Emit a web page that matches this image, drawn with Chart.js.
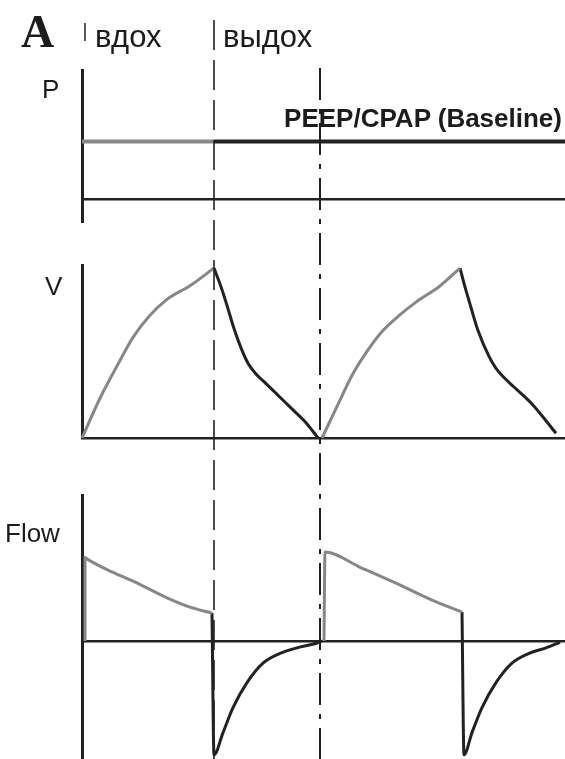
<!DOCTYPE html>
<html>
<head>
<meta charset="utf-8">
<script src="https://cdn.jsdelivr.net/npm/chart.js@4.4.0/dist/chart.umd.min.js"></script>
<style>
  html, body { margin: 0; padding: 0; background: #fff; }
  #wrap { position: relative; width: 565px; height: 759px; overflow: hidden; }
  canvas { position: absolute; left: 0; }
  .lbl { position: absolute; font-family: 'Liberation Sans', Arial, sans-serif; color: #1c1c1c; line-height: 1; white-space: nowrap; }
</style>
</head>
<body>
<div id="wrap">
  <canvas id="pChart" width="565" height="240" style="top:0"></canvas>
  <canvas id="vChart" width="565" height="220" style="top:240px"></canvas>
  <canvas id="fChart" width="565" height="299" style="top:460px"></canvas>
  <div class="lbl" style="font-family:'Liberation Serif',serif;font-weight:bold;font-size:46px;left:21px;top:9px">A</div>
  <div class="lbl" style="font-size:31px;left:95px;top:21px">вдох</div>
  <div class="lbl" style="font-size:31px;left:223px;top:21px">выдох</div>
  <div class="lbl" style="font-size:26px;left:42px;top:76px">P</div>
  <div class="lbl" style="font-size:26px;font-weight:bold;right:3px;top:105px">PEEP/CPAP (Baseline)</div>
  <div class="lbl" style="font-size:26px;left:45px;top:273px">V</div>
  <div class="lbl" style="font-size:26px;left:5px;top:520px">Flow</div>
</div>
<script>
'use strict';

// time axis in seconds, markers = end of inspiration / end of expiration
const markerTimes = [1.32, 2.38];
const timeMax = 4.83;

// pressure, cmH2O
const presTime = [0, 1.32, 4.83];
const pressure = [5, 5, 5];

// volume, mL (one array pair per phase)
const volInsp1Time = [0, 0.18, 0.38, 0.51, 0.68, 0.85, 1.08, 1.32];
const volInsp1 = [0, 117, 228, 296, 361, 408, 448, 500];
const volExp1Time = [1.32, 1.39, 1.45, 1.52, 1.59, 1.66, 1.74, 1.84, 1.98, 2.12, 2.24, 2.36];
const volExp1 = [500, 445, 390, 322, 265, 220, 188, 160, 120, 80, 45, 0];
const volInsp2Time = [2.40, 2.56, 2.705, 2.85, 2.99, 3.17, 3.35, 3.57, 3.78];
const volInsp2 = [0, 99, 187, 255, 310, 360, 402, 445, 500];
const volExp2Time = [3.78, 3.82, 3.89, 3.96, 4.07, 4.14, 4.22, 4.32, 4.50, 4.74];
const volExp2 = [500, 455, 384, 316, 240, 205, 178, 150, 100, 14];

// flow, L/min
const flowInsp1Time = [0.03, 0.03, 0.06, 0.26, 0.51, 0.85, 1.08, 1.30];
const flowInsp1 = [0, 60, 58.5, 51, 43, 31, 24.3, 20];
const flowExp1Time = [1.30, 1.32, 1.41, 1.51, 1.65, 1.81, 1.98, 2.15, 2.35, 2.40];
const flowExp1 = [20, -82, -66, -48, -30, -16, -9, -5, -1.5, 0];
const flowInsp2Time = [2.42, 2.43, 2.78, 3.14, 3.50, 3.80];
const flowInsp2 = [0, 64, 53, 41.5, 29.4, 20.7];
const flowExp2Time = [3.80, 3.82, 3.90, 4.00, 4.14, 4.30, 4.47, 4.64, 4.78];
const flowExp2 = [20.7, -82, -66, -48, -30, -16, -9, -5, -1];

const GRAY = '#878787';
const DARK = '#222222';

function pts(times, values) {
  return times.map((t, i) => ({ x: t, y: values[i] }));
}

function line(times, values, color, width) {
  return {
    data: pts(times, values),
    borderColor: color,
    borderWidth: width || 3,
    pointRadius: 0,
    cubicInterpolationMode: 'monotone',
    clip: false
  };
}

// vertical phase lines running through all three panels
const phaseLines = {
  id: 'phaseLines',
  afterDatasetsDraw(chart, args, o) {
    const ctx = chart.ctx;
    const xs = chart.scales.x;
    const starts = [20, 68];
    const dashes = [[30, 10], [32, 9, 5, 9]];
    const widths = [1.6, 2];
    ctx.save();
    ctx.strokeStyle = DARK;
    markerTimes.forEach((t, i) => {
      const px = Math.round(xs.getPixelForValue(t));
      const y0 = Math.max(0, starts[i] - o.top);
      ctx.lineWidth = widths[i];
      ctx.setLineDash(dashes[i]);
      ctx.lineDashOffset = o.top + y0 - starts[i];
      ctx.beginPath();
      ctx.moveTo(px, y0);
      ctx.lineTo(px, chart.height);
      ctx.stroke();
    });
    if (o.tick) {
      // small start marker next to "вдох"
      ctx.setLineDash([]);
      ctx.lineWidth = 1.5;
      ctx.beginPath();
      ctx.moveTo(xs.getPixelForValue(0.03), 23);
      ctx.lineTo(xs.getPixelForValue(0.03), 41);
      ctx.stroke();
    }
    ctx.restore();
  }
};

function makeChart(id, top, datasets, yMin, yMax, pad, xPos) {
  return new Chart(document.getElementById(id).getContext('2d'), {
    type: 'line',
    data: { datasets: datasets },
    options: {
      responsive: false,
      animation: false,
      devicePixelRatio: 1,
      layout: { padding: { left: 82, right: 0, top: pad[0], bottom: pad[1] } },
      plugins: {
        legend: { display: false },
        tooltip: { enabled: false },
        phaseLines: { top: top, tick: top === 0 }
      },
      scales: {
        x: {
          type: 'linear',
          min: 0,
          max: timeMax,
          position: xPos,
          grid: { display: false, drawTicks: false },
          ticks: { display: false },
          border: { display: true, color: DARK, width: 2.5 }
        },
        y: {
          min: yMin,
          max: yMax,
          grid: { display: false, drawTicks: false },
          ticks: { display: false },
          border: { display: true, color: DARK, width: 3 }
        }
      }
    },
    plugins: [phaseLines]
  });
}

// P panel: baseline gray during first inspiration, dark afterwards
const presSet = line(presTime, pressure, DARK, 4);
presSet.cubicInterpolationMode = 'default';
presSet.segment = {
  borderColor: ctx => ctx.p0.parsed.x < markerTimes[0] ? GRAY : DARK
};
makeChart('pChart', 0, [presSet], -2, 11.2, [70, 18], { y: 0 });

makeChart('vChart', 240, [
  line(volInsp1Time, volInsp1, GRAY),
  line(volExp1Time, volExp1, DARK),
  line(volInsp2Time, volInsp2, GRAY),
  line(volExp2Time, volExp2, DARK)
], 0, 509, [25, 22], 'bottom');

makeChart('fChart', 460, [
  line(flowInsp1Time, flowInsp1, GRAY),
  line(flowExp1Time, flowExp1, DARK),
  line(flowInsp2Time, flowInsp2, GRAY),
  line(flowExp2Time, flowExp2, DARK)
], -85, 105, [35, 0], { y: 0 });
</script>
</body>
</html>
